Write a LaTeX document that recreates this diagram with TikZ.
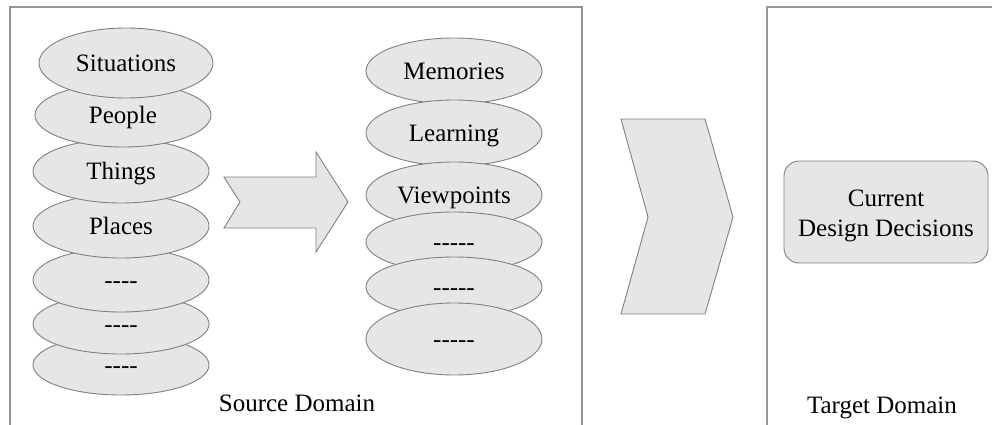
\documentclass[tikz,border=0pt]{standalone}
\usepackage{fontspec}
\setmainfont{Liberation Serif}
\usetikzlibrary{shapes.geometric}
\definecolor{shapefill}{RGB}{230,230,230}
\definecolor{shapeline}{RGB}{128,128,128}
\definecolor{boxline}{RGB}{150,150,150}
\begin{document}
\begin{tikzpicture}[x=1pt,y=-1pt,
  txt/.style={font=\fontsize{25}{30}\selectfont},
  disc/.style={ellipse, draw=shapeline, fill=shapefill, line width=0.9pt,
    inner sep=0pt, minimum width=176pt, minimum height=#1,
    text height=16.5pt, text depth=0pt, txt},
  disc/.default=64pt,
  domainbox/.style={draw=boxline, line width=1.2pt},
  bigshape/.style={draw=shapeline, fill=shapefill, line width=0.9pt, line join=miter}]
\useasboundingbox (0,0) rectangle (992,425);
\begin{scope}
\clip (0,0) rectangle (992,425);
% domain frames
\draw[domainbox] (10,440) -- (10,7) -- (582,7) -- (582,440);
\draw[domainbox] (767,440) -- (767,7) -- (1000,7);
% left stack (upper discs on top)
\node[disc=60pt] (l7) at (121,365) {-{}-{}-{}-};
\node[disc=60pt] (l6) at (121,324) {-{}-{}-{}-};
\node[disc] (l5) at (121,280) {-{}-{}-{}-};
\node[disc] (l4) at (121,226) {Places};
\node[disc] (l3) at (121,171) {Things};
\node[disc] (l2) at (123,115) {People};
\node[disc=70pt, minimum width=174pt] (l1) at (126,63) {Situations};
% right stack (lower discs on top)
\node[disc=66pt] (r1) at (454,71) {Memories};
\node[disc=66pt] (r2) at (454,133) {Learning};
\node[disc=66pt] (r3) at (454,195) {Viewpoints};
\node[disc=60pt] (r4) at (454,242) {-{}-{}-{}-{}-};
\node[disc=60pt] (r5) at (454,287) {-{}-{}-{}-{}-};
\node[disc=72pt] (r6) at (454,339) {-{}-{}-{}-{}-};
% block arrow
\draw[bigshape] (224,177) -- (316,177) -- (316,152) -- (348,202) -- (316,252)
  -- (316,228) -- (224,228) -- (240,202) -- cycle;
% chevron
\draw[bigshape] (621,119) -- (705,119) -- (733,217) -- (705,314) -- (621,314)
  -- (648,217) -- cycle;
% target node
\node[draw=shapeline, fill=shapefill, line width=0.9pt, rounded corners=15pt,
  minimum width=204pt, minimum height=102pt, inner sep=0pt]
  (cur) at (886,212) {};
\node[align=center, txt, inner sep=0pt] (curtext) at (886,216) {Current\\Design Decisions};
% labels
\node[txt] (src) at (297,403) {Source Domain};
\node[txt] (tgt) at (882,408) {Target Domain};
\end{scope}
\end{tikzpicture}
\end{document}
